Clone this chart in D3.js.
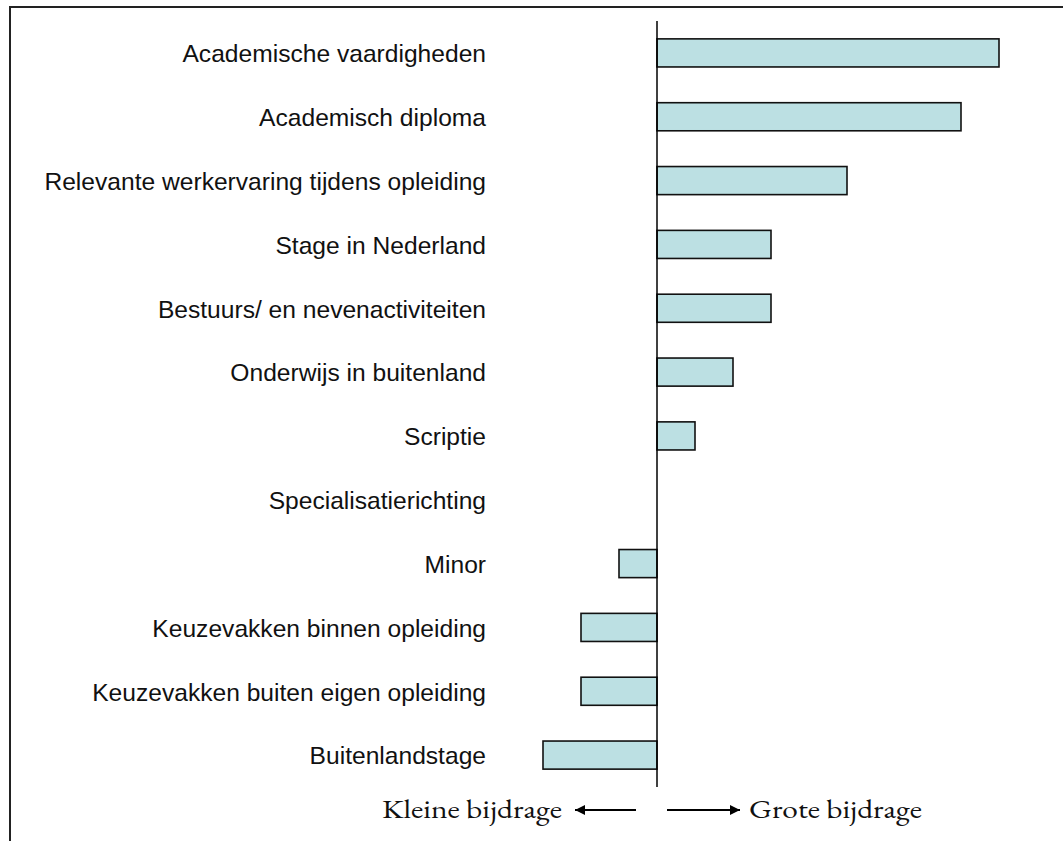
<!DOCTYPE html>
<html>
<head>
<meta charset="utf-8">
<script src="https://cdn.jsdelivr.net/npm/d3@7"></script>
<style>
  body { margin: 0; background: #fff; }
</style>
</head>
<body>
<div id="chart"></div>
<script>
// categories top to bottom
const categories = [
  'Academische vaardigheden',
  'Academisch diploma',
  'Relevante werkervaring tijdens opleiding',
  'Stage in Nederland',
  'Bestuurs/ en nevenactiviteiten',
  'Onderwijs in buitenland',
  'Scriptie',
  'Specialisatierichting',
  'Minor',
  'Keuzevakken binnen opleiding',
  'Keuzevakken buiten eigen opleiding',
  'Buitenlandstage'
];
// contribution (negative = smaller contribution)
const values = [9, 8, 5, 3, 3, 2, 1, 0, -1, -2, -2, -3];
const leftLabel = 'Kleine bijdrage';
const rightLabel = 'Grote bijdrage';

const width = 1063, height = 841;

let svg = d3.select('#chart').append('svg')
  .attr('width', width)
  .attr('height', height);

// frame (top and left edge only)
svg.append('path')
  .attr('d', `M10,${height} L10,7 L${width},7`)
  .attr('fill', 'none')
  .attr('stroke', '#222')
  .attr('stroke-width', 2);

let x = d3.scaleLinear().domain([-3, 9]).range([543, 999]);
let y = d3.scaleBand().domain(categories).range([21, 787])
  .paddingInner(0.56).paddingOuter(0.28);

let data = categories.map((c, i) => ({ name: c, value: values[i] }));

// bars
svg.append('g').selectAll('rect')
  .data(data.filter(d => d.value !== 0))
  .join('rect')
  .attr('x', d => x(Math.min(0, d.value)))
  .attr('y', d => y(d.name))
  .attr('width', d => Math.abs(x(d.value) - x(0)))
  .attr('height', y.bandwidth())
  .attr('fill', '#bce0e3')
  .attr('stroke', '#111')
  .attr('stroke-width', 1.6);

// zero line
svg.append('line')
  .attr('x1', x(0)).attr('x2', x(0))
  .attr('y1', 21).attr('y2', 787)
  .attr('stroke', '#000')
  .attr('stroke-width', 1.5);

// category labels
svg.append('g').selectAll('text')
  .data(categories)
  .join('text')
  .attr('x', 486)
  .attr('y', d => y(d) + y.bandwidth() / 2)
  .attr('dy', '0.38em')
  .attr('text-anchor', 'end')
  .style('font-family', '"Liberation Sans", Arial, sans-serif')
  .style('font-size', '24.6px')
  .style('fill', '#111')
  .text(d => d);

// arrows
let defs = svg.append('defs');
defs.append('marker')
  .attr('id', 'head')
  .attr('viewBox', '0 0 10 10')
  .attr('refX', 10).attr('refY', 5)
  .attr('markerWidth', 13).attr('markerHeight', 10)
  .attr('markerUnits', 'userSpaceOnUse')
  .attr('orient', 'auto')
  .append('path')
  .attr('d', 'M0,0 L10,5 L0,10 Z')
  .attr('fill', '#000');

let arrowY = 810;
svg.append('line')
  .attr('x1', x(0) - 21).attr('x2', x(0) - 82)
  .attr('y1', arrowY).attr('y2', arrowY)
  .attr('stroke', '#000').attr('stroke-width', 2)
  .attr('marker-end', 'url(#head)');
svg.append('line')
  .attr('x1', x(0) + 10).attr('x2', x(0) + 83)
  .attr('y1', arrowY).attr('y2', arrowY)
  .attr('stroke', '#000').attr('stroke-width', 2)
  .attr('marker-end', 'url(#head)');

let serif = '"EB Garamond", Garamond, "Liberation Serif", "Times New Roman", serif';
svg.append('text')
  .attr('x', 382).attr('y', 818)
  .attr('textLength', 180)
  .attr('lengthAdjust', 'spacingAndGlyphs')
  .style('font-family', serif)
  .style('font-size', '27px')
  .style('fill', '#111')
  .text(leftLabel);
svg.append('text')
  .attr('x', 749).attr('y', 818)
  .attr('textLength', 173)
  .attr('lengthAdjust', 'spacingAndGlyphs')
  .style('font-family', serif)
  .style('font-size', '27px')
  .style('fill', '#111')
  .text(rightLabel);
</script>
</body>
</html>
